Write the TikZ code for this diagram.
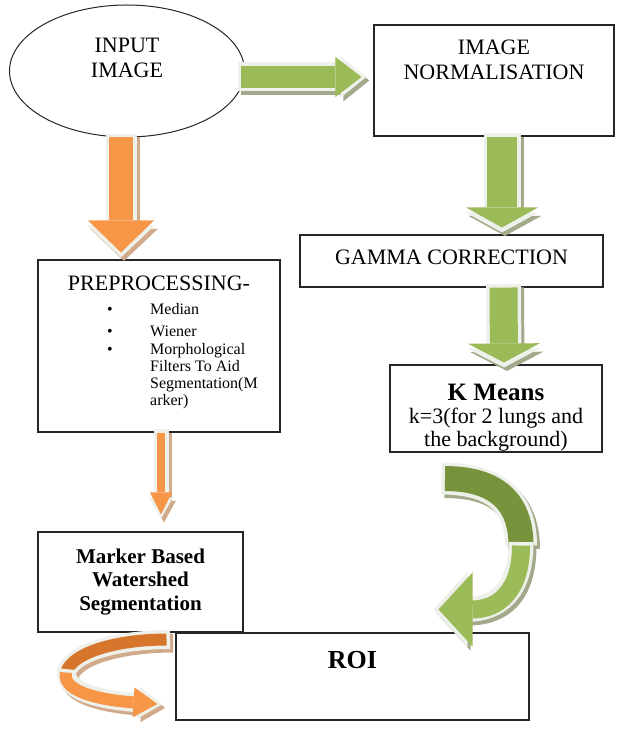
\documentclass[tikz,border=0pt]{standalone}
\usepackage{fontspec}
\setmainfont{Liberation Serif}
\usepackage{xcolor}
\usepackage{tikz}
\usetikzlibrary{shapes.geometric,arrows.meta,positioning,calc}
\definecolor{leaf}{RGB}{155,187,89}
\definecolor{darkleaf}{RGB}{119,147,60}
\definecolor{amber}{RGB}{247,150,70}
\definecolor{darkamber}{RGB}{214,118,45}
\definecolor{glow}{RGB}{238,240,234}
\definecolor{leafshadow}{RGB}{163,170,140}
\definecolor{ambershadow}{RGB}{208,170,138}
\newcommand\mainsize{\fontsize{22}{25}\selectfont}
\newcommand\listsize{\fontsize{16}{17}\selectfont}
\tikzset{
  box/.style={rectangle,draw=black!85,line width=1.1pt,fill=white,inner sep=0pt,
              align=center,font=\mainsize},
  blob/.style={ellipse,draw=black!85,line width=1pt,fill=white,inner sep=0pt,
              align=center,font=\mainsize},
  % fill colour, shadow colour, shaft, head width, head length
  blockarrow/.style n args={5}{draw=#1,line width=#3,
      -{Triangle[width=#4,length=#5,line width=0pt]},
      preaction={draw=#2,line width=#3+7pt,shorten <=-3.5pt,shorten >=-5pt,
                 -{Triangle[width=#4,length=#5,line width=7pt]},
                 transform canvas={shift={(3pt,-3.5pt)}}},
      preaction={draw=glow,line width=#3+7pt,shorten <=-3.5pt,shorten >=-5pt,
                 -{Triangle[width=#4,length=#5,line width=7pt]}}},
  blockband/.style n args={3}{draw=#1,line width=#3,
      preaction={draw=#2,line width=#3+7pt,shorten <=-3.5pt,
                 transform canvas={shift={(3pt,-3.5pt)}}},
      preaction={draw=glow,line width=#3+7pt,shorten <=-3.5pt}},
}

\begin{document}
\begin{tikzpicture}[x=1pt,y=-1pt]
  \useasboundingbox (0,0) rectangle (616,730);

  \node[blob,minimum width=235,minimum height=132,text depth=27pt] (input) at (127,71) {INPUT\\IMAGE};
  \node[box,minimum width=240,minimum height=111,text depth=42pt] (norm) at (494,80.5) {IMAGE\\NORMALISATION};
  \node[box,minimum width=303,minimum height=52,text depth=8pt] (gamma) at (451.5,261) {GAMMA CORRECTION};
  \node[box,minimum width=212,minimum height=87,text height=80pt,font=\fontsize{22}{23}\selectfont] (kmeans) at (496,408.5)
    {{\bfseries\fontsize{25}{23}\selectfont K Means}\\k=3(for 2 lungs and\\the background)};
  \node[box,minimum width=242,minimum height=172,text depth=125pt] (pre) at (159,346) {PREPROCESSING-};
  \node[anchor=north west,inner sep=0pt,font=\listsize] (prelist) at (107,302)
    {\begin{tabular}{@{}p{43pt}@{}l@{}}
      \textbullet & Median\\[5pt]
      \textbullet & Wiener\\[1pt]
      \textbullet & Morphological\\
                  & Filters To Aid\\
                  & Segmentation(M\\
                  & arker)
     \end{tabular}};
  \node[box,minimum width=205,minimum height=100,font=\bfseries\fontsize{21}{23.5}\selectfont] (marker) at (140.5,582)
    {Marker Based\\Watershed\\Segmentation};
  \node[box,minimum width=353,minimum height=87,text depth=33pt,font=\bfseries\fontsize{26}{28}\selectfont] (roi) at (352.5,676.5) {ROI};

  \draw[blockarrow={leaf}{leafshadow}{22pt}{40pt}{26pt}] ($(input.east)+(-4,6)$) -- ($(norm.west)+(-12,-3.5)$);
  \draw[blockarrow={amber}{ambershadow}{24pt}{66pt}{32pt}] ($(input.south)+(-6,0)$) -- ($(pre.north)+(-38,-7)$);
  \draw[blockarrow={leaf}{leafshadow}{30pt}{72pt}{20pt}] ($(norm.south)+(8,0)$) -- ($(gamma.north)+(50.5,-7)$);
  \draw[blockarrow={leaf}{leafshadow}{28pt}{72pt}{19pt}] ($(gamma.south)+(52,0)$) -- ($(kmeans.north)+(8,-2)$);
  \draw[blockarrow={amber}{ambershadow}{8pt}{22pt}{22pt}] ($(pre.south)+(2,0)$) -- ($(marker.north)+(20.5,-17)$);

  % curved arrows, dark upper half then light half with the head
  \coordinate (gtop) at ($(kmeans.south)+(-51,26)$);
  \coordinate (gmid) at ($(kmeans.south)+(25,93)$);
  \coordinate (gend) at ($(roi.north)+(86,-23)$);
  \draw[blockband={darkleaf}{leafshadow}{25pt}] (gtop) .. controls +(55,0) and +(0,-40) .. (gmid);
  \draw[blockarrow={leaf}{leafshadow}{18pt}{74pt}{34pt}] (gmid) .. controls +(0,45) and +(60,0) .. (gend);

  \coordinate (otop) at ($(marker.south)+(26,7)$);
  \coordinate (omid) at ($(marker.south)+(-74.5,40)$);
  \coordinate (oend) at ($(roi.west)+(-18,27.5)$);
  \draw[blockband={darkamber}{ambershadow}{12pt}] (otop) .. controls +(-50,0) and +(6,-20) .. (omid);
  \draw[blockarrow={amber}{ambershadow}{12pt}{30pt}{24pt}] (omid) .. controls +(-5,22) and +(-45,-3) .. (oend);
\end{tikzpicture}
\end{document}
